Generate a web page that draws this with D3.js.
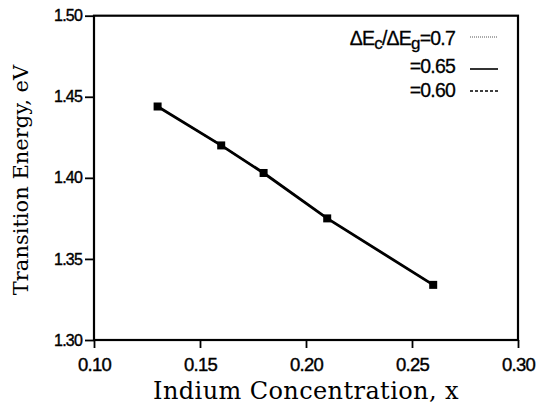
<!DOCTYPE html>
<html>
<head>
<meta charset="utf-8">
<script src="https://cdn.jsdelivr.net/npm/d3@7"></script>
<style>
  html, body { margin: 0; padding: 0; background: #fff; }
  svg { display: block; }
</style>
</head>
<body>
<svg id="chart" width="537" height="405"></svg>
<script>
// ---- data ----
const indium = [0.13, 0.16, 0.18, 0.21, 0.26];
const measured = [1.444, 1.420, 1.403, 1.375, 1.334];
const ratio070 = [1.444, 1.420, 1.403, 1.375, 1.334];
const ratio065 = [1.444, 1.420, 1.403, 1.375, 1.334];
const ratio060 = [1.444, 1.420, 1.403, 1.375, 1.334];
const xTicks = [0.10, 0.15, 0.20, 0.25, 0.30];
const yTicks = [1.30, 1.35, 1.40, 1.45, 1.50];
const legendLabels = ["=0.7", "=0.65", "=0.60"];

// ---- layout ----
const svg = d3.select("#chart");
const mLeft = 94, mRight = 518, mTop = 15.7, mBottom = 340;
const x = d3.scaleLinear().domain([0.10, 0.30]).range([mLeft, mRight]);
const y = d3.scaleLinear().domain([1.30, 1.50]).range([mBottom, mTop]);

const sans = "'Liberation Sans', Arial, sans-serif";
const serif = "'DejaVu Serif', 'Liberation Serif', serif";

// axes
const xAxis = d3.axisBottom(x).tickValues(xTicks).tickSize(8).tickPadding(10)
  .tickFormat(d3.format(".2f"));
const yAxis = d3.axisLeft(y).tickValues(yTicks).tickSize(9).tickPadding(3)
  .tickFormat(d3.format(".2f"));

const gx = svg.append("g").attr("transform", `translate(0,${mBottom})`).call(xAxis);
const gy = svg.append("g").attr("transform", `translate(${mLeft},0)`).call(yAxis);
[gx, gy].forEach(g => {
  g.select(".domain").remove();
  g.selectAll(".tick line").attr("stroke", "#000").attr("stroke-width", 1.8);
  g.selectAll(".tick text").attr("fill", "#000").attr("font-family", sans)
    .attr("stroke", "#000").attr("stroke-width", 0.4)
    .attr("letter-spacing", "-0.8px");
});
gx.selectAll(".tick text").attr("font-size", 18.5);
gy.selectAll(".tick text").attr("font-size", 16);

// frame
svg.append("rect").attr("x", mLeft).attr("y", mTop)
  .attr("width", mRight - mLeft).attr("height", mBottom - mTop)
  .attr("fill", "none").attr("stroke", "#000").attr("stroke-width", 2.2);

// lines
const pts = arr => indium.map((v, i) => [v, arr[i]]);
const line = d3.line().x(d => x(d[0])).y(d => y(d[1]));
const styles = [
  {data: ratio070, w: 1.2, dash: "1,1.5"},
  {data: ratio065, w: 2.8, dash: null},
  {data: ratio060, w: 1.6, dash: "3,2"}
];
styles.forEach(s => {
  svg.append("path").datum(pts(s.data)).attr("d", line)
    .attr("fill", "none").attr("stroke", "#000")
    .attr("stroke-width", s.w).attr("stroke-dasharray", s.dash);
});

// markers
svg.selectAll("rect.pt").data(pts(measured)).enter().append("rect")
  .attr("class", "pt")
  .attr("x", d => x(d[0]) - 4).attr("y", d => y(d[1]) - 4)
  .attr("width", 8).attr("height", 8).attr("fill", "#000");

// legend
const lg = svg.append("g").attr("font-family", sans).attr("font-size", 19.5)
  .attr("fill", "#000").attr("stroke", "#000").attr("stroke-width", 0.3)
  .attr("letter-spacing", "-0.8px");
const t0 = lg.append("text").attr("x", 455).attr("y", 45).attr("text-anchor", "end");
t0.append("tspan").text("ΔE");
t0.append("tspan").attr("dy", 4).attr("font-size", 17).text("c");
t0.append("tspan").attr("dy", -4).text("/ΔE");
t0.append("tspan").attr("dy", 4).attr("font-size", 17).text("g");
t0.append("tspan").attr("dy", -4).text(legendLabels[0]);
lg.append("text").attr("x", 455).attr("y", 73).attr("text-anchor", "end").text(legendLabels[1]);
lg.append("text").attr("x", 455).attr("y", 97).attr("text-anchor", "end").text(legendLabels[2]);
const sampleY = [37, 69, 91];
const sampleStyle = [
  {w: 1, dash: "1,1", c: "#555"},
  {w: 1.6, dash: null, c: "#000"},
  {w: 1.6, dash: "3,2", c: "#000"}
];
sampleStyle.forEach((s, i) => {
  svg.append("line").attr("x1", 470).attr("x2", 498)
    .attr("y1", sampleY[i]).attr("y2", sampleY[i])
    .attr("stroke", s.c).attr("stroke-width", s.w).attr("stroke-dasharray", s.dash);
});

// axis titles
svg.append("text").attr("x", (mLeft + mRight) / 2).attr("y", 399)
  .attr("text-anchor", "middle").attr("font-family", serif).attr("font-size", 24)
  .attr("letter-spacing", "0.4px")
  .attr("fill", "#000").text("Indium Concentration, x");
svg.append("text").attr("transform", `translate(28,180) rotate(-90)`)
  .attr("text-anchor", "middle").attr("font-family", serif).attr("font-size", 21)
  .attr("fill", "#000").text("Transition Energy, eV");
</script>
</body>
</html>
